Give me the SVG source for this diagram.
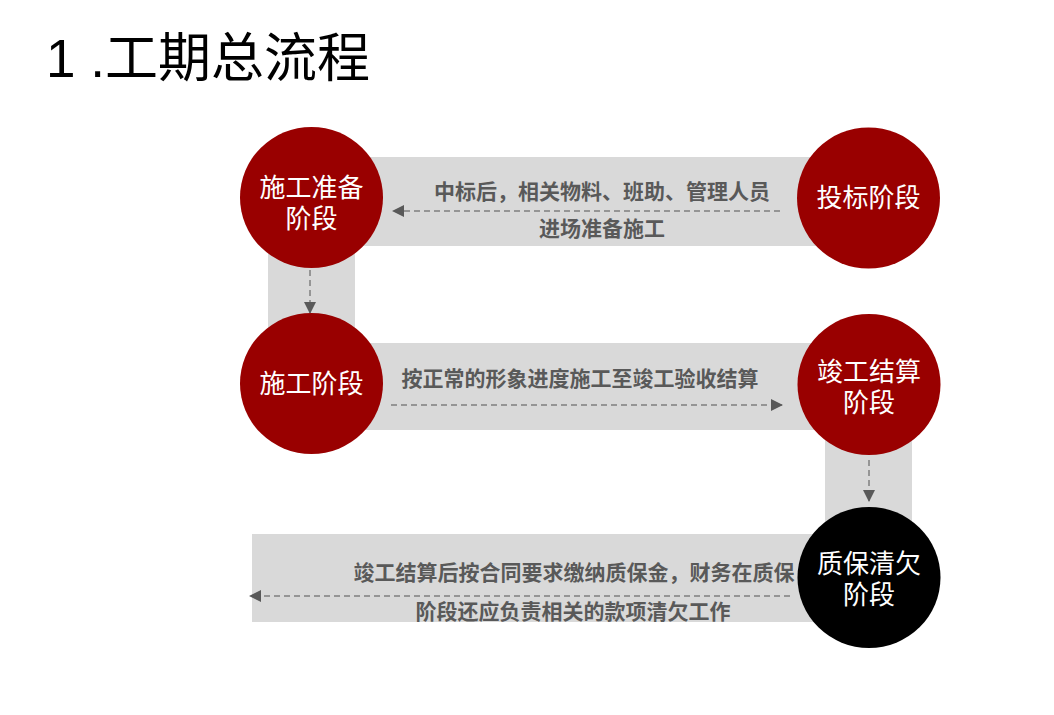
<svg xmlns="http://www.w3.org/2000/svg" width="1054" height="715" viewBox="0 0 1054 715">
<defs>
<style>
.band{fill:#d9d9d9}
.red{fill:#990000}
.blk{fill:#000000}
.ntext{font-family:"Liberation Sans","Noto Sans CJK SC",sans-serif;font-size:26px;fill:#ffffff;text-anchor:middle}
.lbl{font-family:"Liberation Sans","Noto Sans CJK SC",sans-serif;font-size:21px;font-weight:bold;fill:#595959;text-anchor:middle}
.title{font-family:"Liberation Sans","Noto Sans CJK SC",sans-serif;font-size:53px;fill:#000000}
.conn{fill:none;stroke:#7f7f7f;stroke-width:1.5;stroke-dasharray:6 4}
</style>
<marker id="arr" markerWidth="12" markerHeight="12" refX="11" refY="6" orient="auto" markerUnits="userSpaceOnUse">
<path d="M0,0 L12,6 L0,12 Z" fill="#595959"/>
</marker>
</defs>
<rect width="1054" height="715" fill="#ffffff"/>
<text class="title" x="46" y="77">1 .工期总流程</text>
<g id="bands">
<rect class="band" x="311" y="157" width="557" height="89"/>
<rect class="band" x="268" y="198" width="87" height="186"/>
<rect class="band" x="311" y="343" width="557" height="87"/>
<rect class="band" x="825" y="384" width="87" height="193"/>
<rect class="band" x="252" y="534" width="616" height="88"/>
</g>
<g id="connectors">
<line class="conn" x1="780" y1="211" x2="393" y2="211" marker-end="url(#arr)"/>
<line class="conn" x1="310" y1="270" x2="310" y2="313" marker-end="url(#arr)"/>
<line class="conn" x1="391" y1="405" x2="782" y2="405" marker-end="url(#arr)"/>
<line class="conn" x1="869" y1="460" x2="869" y2="501" marker-end="url(#arr)"/>
<line class="conn" x1="790" y1="596" x2="250" y2="596" marker-end="url(#arr)"/>
</g>
<g id="labels">
<text class="lbl" x="602" y="199">中标后，相关物料、班助、管理人员</text>
<text class="lbl" x="602" y="236">进场准备施工</text>
<text class="lbl" x="580" y="386">按正常的形象进度施工至竣工验收结算</text>
<text class="lbl" x="574" y="580">竣工结算后按合同要求缴纳质保金，财务在质保</text>
<text class="lbl" x="573" y="619">阶段还应负责相关的款项清欠工作</text>
</g>
<g id="node-prep">
<ellipse class="red" cx="311.5" cy="197.5" rx="71.5" ry="70.5"/>
<text class="ntext" x="311.5" y="197">施工准备</text>
<text class="ntext" x="311.5" y="228">阶段</text>
</g>
<g id="node-bid">
<ellipse class="red" cx="868.5" cy="198" rx="71.5" ry="70.5"/>
<text class="ntext" x="868.5" y="207">投标阶段</text>
</g>
<g id="node-build">
<ellipse class="red" cx="311.5" cy="383.5" rx="71.5" ry="70.5"/>
<text class="ntext" x="311.5" y="393">施工阶段</text>
</g>
<g id="node-settle">
<ellipse class="red" cx="869" cy="384.5" rx="71.5" ry="70.5"/>
<text class="ntext" x="869" y="381">竣工结算</text>
<text class="ntext" x="869" y="412">阶段</text>
</g>
<g id="node-warranty">
<ellipse class="blk" cx="869" cy="577.5" rx="71.5" ry="70.5"/>
<text class="ntext" x="869" y="573">质保清欠</text>
<text class="ntext" x="869" y="604">阶段</text>
</g>
</svg>
